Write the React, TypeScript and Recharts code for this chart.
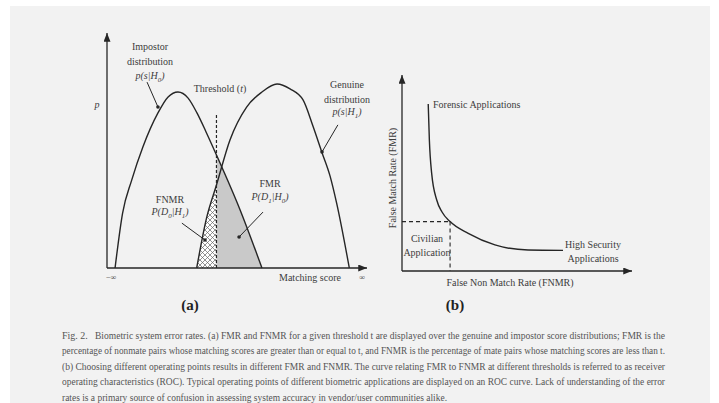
import React from 'react';
import {
  ComposedChart, LineChart, Line, Area, XAxis, YAxis, ReferenceLine, ReferenceDot,
} from 'recharts';

// ---- Panel (a): score distributions ----
const impostorScore = [3.1, 6.0, 9.5, 13.8, 19.6, 23.5, 27.3, 31.2, 34.6, 38.1, 42.1, 51.2, 59.6];
const impostorP = [0, 23.4, 37.4, 51.5, 66, 72.8, 74.9, 72.3, 66, 57.9, 48.1, 24.7, 0];
const genuineScore = [34.5, 38.3, 42.1, 47.3, 53.7, 59.6, 65.4, 70.4, 75.4, 79.2, 82.6, 85.8, 88.3, 93.2];
const genuineP = [0, 21.3, 35.3, 54.5, 68.5, 74.9, 78.3, 76.2, 71.5, 60.4, 49.4, 39.1, 27.7, 0];
const threshold = 42.1;
const thresholdTop = 66;

// annotation pointers (from label to curve), in data units
const pointerFrom = [
  { x: 15.4, y: 79.1 },
  { x: 88.8, y: 60.9 },
  { x: 28.8, y: 19.1 },
  { x: 60.0, y: 23.8 },
];
const pointerTo = [
  { x: 19.6, y: 68.5 },
  { x: 82.7, y: 49.4 },
  { x: 37.7, y: 11.9 },
  { x: 50.8, y: 13.2 },
];

// ---- Panel (b): ROC curve ----
const rocFnmr = [11.4, 11.9, 12.9, 15.1, 17.4, 20.9, 28.8, 40.4, 54.8, 70.0];
const rocFmr = [85.2, 66.8, 49.8, 36.2, 30.1, 25.2, 19.2, 13.3, 10.7, 10.5];
const civilianFnmr = 20.9;
const civilianFmr = 25.2;

const captionLines = [
  'percentage of nonmate pairs whose matching scores are greater than or equal to t, and FNMR is the percentage of mate pairs whose matching scores are less than t.',
  '(b) Choosing different operating points results in different FMR and FNMR. The curve relating FMR to FNMR at different thresholds is referred to as receiver',
  'operating characteristics (ROC). Typical operating points of different biometric applications are displayed on an ROC curve. Lack of understanding of the error',
  'rates is a primary source of confusion in assessing system accuracy in vendor/user communities alike.',
];

const scores = Array.from(new Set([...impostorScore, ...genuineScore])).sort((a, b) => a - b);
const distData = scores.map((s) => {
  const i = impostorScore.indexOf(s);
  const g = genuineScore.indexOf(s);
  return {
    score: s,
    impostor: i >= 0 ? impostorP[i] : null,
    genuine: g >= 0 ? genuineP[g] : null,
    fmr: i >= 0 && s >= threshold ? impostorP[i] : null,
    fnmr: g >= 0 && s <= threshold ? genuineP[g] : null,
  };
});
const rocData = rocFnmr.map((x, i) => ({ fnmr: x, fmr: rocFmr[i] }));

const SERIF = "'Times New Roman', 'Liberation Serif', 'DejaVu Serif', serif";
const INK = '#262626';

const T = ({ x, y, children, style }: any) => (
  <div
    style={{
      position: 'absolute', left: x, top: y, transform: 'translate(-50%, -50%)',
      whiteSpace: 'nowrap', fontFamily: SERIF, fontSize: 10, color: '#3c3c3c', lineHeight: 1,
      ...style,
    }}
  >
    {children}
  </div>
);

const Defs = ({ id }: { id: string }) => (
  <defs>
    <marker id={id} viewBox="0 0 10 8" refX="10" refY="4" markerWidth="9" markerHeight="7"
      markerUnits="userSpaceOnUse" orient="auto-start-reverse">
      <path d="M0,0 L10,4 L0,8 z" fill={INK} />
    </marker>
    <pattern id="hatch" width="5" height="5" patternUnits="userSpaceOnUse">
      <rect width="5" height="5" fill="#ffffff" />
      <path d="M0,0 L5,5 M5,0 L0,5" stroke="#666" strokeWidth="0.7" />
    </pattern>
  </defs>
);

export default function App() {
  return (
    <div style={{ position: 'absolute', left: 0, top: 0, width: 719, height: 403, background: '#fff', overflow: 'hidden' }}>
      <div style={{ position: 'absolute', left: 10, top: 6, width: 700, height: 397, background: '#f2f2f2' }} />

      {/* Panel (a) */}
      <div style={{ position: 'absolute', left: 80, top: 20 }}>
        <ComposedChart width={300} height={300} data={distData} margin={{ top: 13, right: 13, bottom: 51, left: 26 }}>
          <Defs id="arrA" />
          <XAxis type="number" dataKey="score" domain={[0, 100]} tick={false} tickLine={false} height={1}
            axisLine={{ stroke: INK, strokeWidth: 1.3, markerEnd: 'url(#arrA)' }} />
          <YAxis type="number" domain={[0, 100]} tick={false} tickLine={false} width={1}
            axisLine={{ stroke: INK, strokeWidth: 1.3, markerStart: 'url(#arrA)' }} />
          <Area type="monotone" dataKey="fnmr" connectNulls stroke="none" fill="url(#hatch)" fillOpacity={1} isAnimationActive={false} />
          <Area type="monotone" dataKey="fmr" connectNulls stroke="none" fill="#c9c9c9" fillOpacity={1} isAnimationActive={false} />
          <Line type="monotone" dataKey="impostor" connectNulls stroke={INK} strokeWidth={1.4} dot={false} isAnimationActive={false} />
          <Line type="monotone" dataKey="genuine" connectNulls stroke={INK} strokeWidth={1.4} dot={false} isAnimationActive={false} />
          <ReferenceLine segment={[{ x: threshold, y: 0 }, { x: threshold, y: thresholdTop }]} stroke={INK} strokeWidth={1.2} strokeDasharray="3 2" />
          {pointerFrom.map((p, i) => (
            <ReferenceLine key={'pl' + i} segment={[p, pointerTo[i]]} stroke={INK} strokeWidth={1} />
          ))}
          {pointerTo.map((p, i) => (
            <ReferenceDot key={'pd' + i} x={p.x} y={p.y} r={1.8} fill={INK} stroke="none" />
          ))}
        </ComposedChart>
      </div>

      {/* Panel (b) */}
      <div style={{ position: 'absolute', left: 370, top: 60 }}>
        <LineChart width={280} height={240} data={rocData} margin={{ top: 15, right: 18, bottom: 28, left: 31 }}>
          <Defs id="arrB" />
          <XAxis type="number" dataKey="fnmr" domain={[0, 100]} tick={false} tickLine={false} height={1}
            axisLine={{ stroke: INK, strokeWidth: 1.3, markerEnd: 'url(#arrB)' }} />
          <YAxis type="number" domain={[0, 100]} tick={false} tickLine={false} width={1}
            axisLine={{ stroke: INK, strokeWidth: 1.3, markerStart: 'url(#arrB)' }} />
          <ReferenceLine segment={[{ x: 0, y: civilianFmr }, { x: civilianFnmr, y: civilianFmr }]} stroke={INK} strokeWidth={1.1} strokeDasharray="4 3" />
          <ReferenceLine segment={[{ x: civilianFnmr, y: civilianFmr }, { x: civilianFnmr, y: 0 }]} stroke={INK} strokeWidth={1.1} strokeDasharray="4 3" />
          <Line type="monotone" dataKey="fmr" stroke={INK} strokeWidth={1.4} dot={false} isAnimationActive={false} />
        </LineChart>
      </div>

      {/* Panel (a) labels */}
      <T x={150} y={47}>Impostor</T>
      <T x={150} y={62}>distribution</T>
      <T x={150} y={77} style={{ fontStyle: 'italic' }}>p(s|H<sub style={{ fontSize: 7 }}>0</sub>)</T>
      <T x={97} y={105} style={{ fontStyle: 'italic' }}>p</T>
      <T x={220} y={89}>Threshold (<i>t</i>)</T>
      <T x={347} y={85}>Genuine</T>
      <T x={347} y={100}>distribution</T>
      <T x={347} y={113} style={{ fontStyle: 'italic' }}>p(s|H<sub style={{ fontSize: 7 }}>1</sub>)</T>
      <T x={170} y={200}>FNMR</T>
      <T x={170} y={213} style={{ fontStyle: 'italic' }}>P(D<sub style={{ fontSize: 7 }}>0</sub>|H<sub style={{ fontSize: 7 }}>1</sub>)</T>
      <T x={270} y={184}>FMR</T>
      <T x={270} y={198} style={{ fontStyle: 'italic' }}>P(D<sub style={{ fontSize: 7 }}>1</sub>|H<sub style={{ fontSize: 7 }}>0</sub>)</T>
      <T x={111} y={278} style={{ fontSize: 8 }}>−∞</T>
      <T x={310} y={278}>Matching score</T>
      <T x={362} y={278} style={{ fontSize: 8 }}>∞</T>
      <T x={190} y={305} style={{ fontSize: 15, fontWeight: 'bold', color: '#222' }}>(a)</T>

      {/* Panel (b) labels */}
      <T x={433} y={105} style={{ transform: 'translate(0, -50%)' }}>Forensic Applications</T>
      <T x={427} y={239}>Civilian</T>
      <T x={427} y={253}>Application</T>
      <T x={593} y={245}>High Security</T>
      <T x={593} y={259}>Applications</T>
      <T x={393} y={178} style={{ transform: 'translate(-50%, -50%) rotate(-90deg)' }}>False Match Rate (FMR)</T>
      <T x={510} y={283}>False Non Match Rate (FNMR)</T>
      <T x={455} y={305} style={{ fontSize: 15, fontWeight: 'bold', color: '#222' }}>(b)</T>

      {/* Caption */}
      <svg style={{ position: 'absolute', left: 0, top: 320 }} width={719} height={83}>
        <g style={{ fontFamily: SERIF }} fontSize={10} fill="#555">
          <text x={62} y={18.5}>Fig. 2.</text>
          <text x={95} y={18.5} textLength={570} lengthAdjust="spacingAndGlyphs">
            Biometric system error rates. (a) FMR and FNMR for a given threshold t are displayed over the genuine and impostor score distributions; FMR is the
          </text>
          {captionLines.map((line, i) => (
            <text key={i} x={62} y={34.2 + i * 15.6}
              textLength={i === captionLines.length - 1 ? 385 : 603} lengthAdjust="spacingAndGlyphs">
              {line}
            </text>
          ))}
        </g>
      </svg>
    </div>
  );
}
